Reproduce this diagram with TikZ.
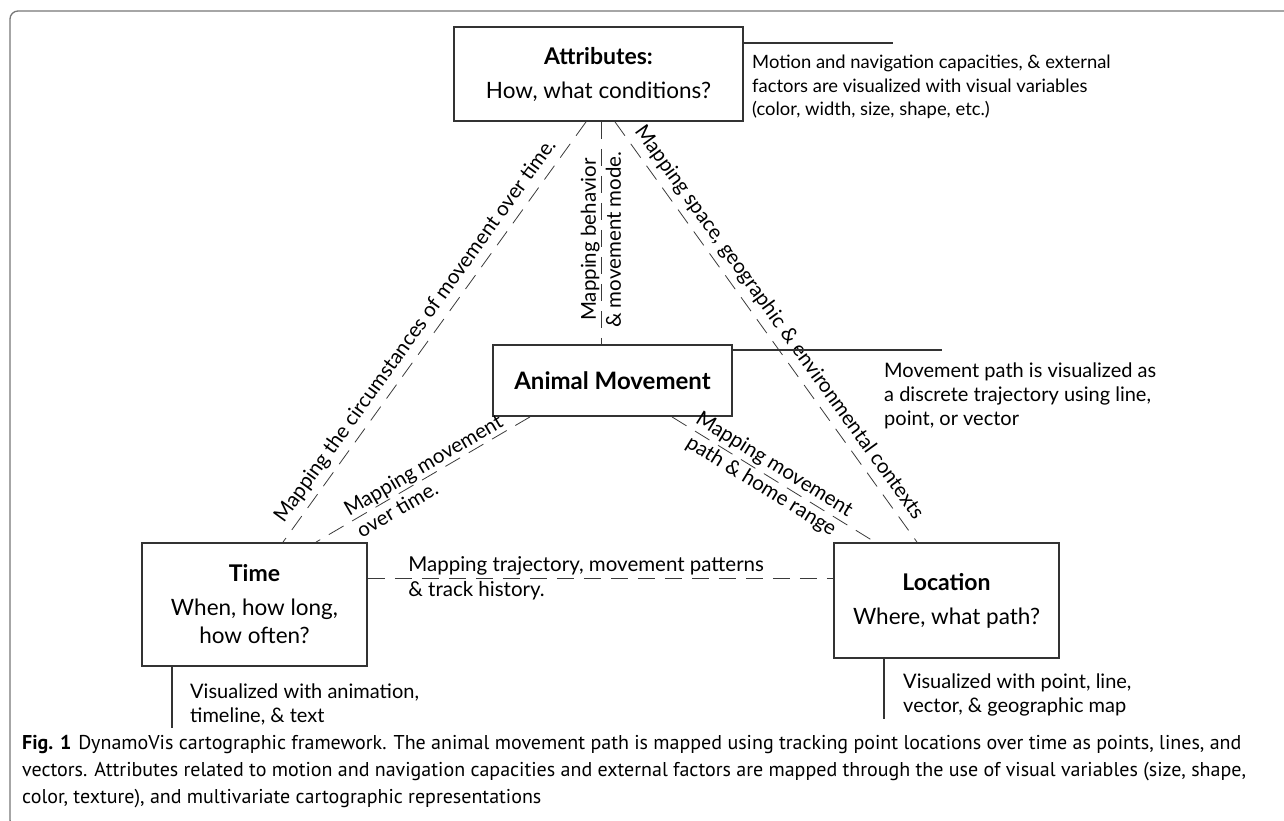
\documentclass[tikz,border=0pt]{standalone}
\usepackage{fontspec}
\setmainfont{Lato}
\newfontfamily\capfont{PT Sans}
\definecolor{boxgray}{HTML}{333333}
\definecolor{linkgray}{HTML}{3A3A3A}
\definecolor{framegray}{HTML}{777777}

\begin{document}
\begin{tikzpicture}[x=1pt,y=-1pt,
    box/.style={draw=boxgray,line width=1.8pt,align=center,inner sep=0pt,font=\bodyfontsize},
    link/.style={draw=linkgray,line width=0.8pt,dash pattern=on 17pt off 10pt},
    note/.style={draw=boxgray,line width=1.5pt},
    notetext/.style={align=left,anchor=north west,inner sep=0pt,font=\notefontsize},
    linklabel/.style={inner sep=0pt,font=\linkfontsize}]
    \providecommand{\titlefontsize}{\fontsize{23pt}{28pt}\selectfont\bfseries}
    \providecommand{\bodyfontsize}{\fontsize{22.5pt}{28pt}\selectfont}
    \providecommand{\linkfontsize}{\fontsize{20.5pt}{25pt}\selectfont}
    \providecommand{\notefontsize}{\fontsize{20pt}{24pt}\selectfont}
    \providecommand{\captionfontsize}{\fontsize{20pt}{27pt}\selectfont}
    \useasboundingbox (0,0) rectangle (1284,820);
    \draw[framegray,line width=1.3pt,rounded corners=8pt] (1300,11) -| (10,828) -- (40,828);

    % the four boxes
    \node[box,minimum width=289pt,minimum height=94pt] (attr) at (598.5,74)
        {{\titlefontsize Attributes:}\\[6pt]How, what conditions?};
    \node[box,minimum width=239pt,minimum height=71pt] (anim) at (612.5,380.5)
        {\fontsize{24pt}{28pt}\selectfont\bfseries Animal Movement};
    \node[box,minimum width=225pt,minimum height=123pt] (time) at (254.5,604.5)
        {{\titlefontsize Time}\\[6pt]When, how long,\\how often?};
    \node[box,minimum width=225pt,minimum height=115pt] (loc) at (946.5,600.5)
        {{\titlefontsize Location}\\[6pt]Where, what path?};

    % dashed connectors
    \draw[link] ([xshift=-12.5pt]attr.south) -- node[linklabel,sloped,above=6pt,pos=0.52]
        {Mapping the circumstances of movement over time.} ([xshift=28.5pt]time.north);
    \draw[link] ([xshift=2.5pt]attr.south) -- node[linklabel,rotate=90,align=center,pos=0.53]
        {Mapping behavior\\\& movement mode.} ([xshift=-11.5pt]anim.north);
    \draw[link] ([xshift=16.5pt]attr.south) -- node[linklabel,sloped,above=6pt]
        {Mapping space, geographic \& environmental contexts} ([xshift=-29.5pt]loc.north);
    \draw[link] ([xshift=-82.5pt]anim.south) -- node[linklabel,sloped,align=left,pos=0.47]
        {Mapping movement\\over time.} ([xshift=61.5pt]time.north);
    \draw[link] ([xshift=59.5pt]anim.south) -- node[linklabel,sloped,align=center,pos=0.47]
        {Mapping movement\\path \& home range} ([xshift=-71.5pt]loc.north);
    \draw[link] ([yshift=26.5pt]time.east) -- node[linklabel,pos=0,anchor=west,xshift=40pt,align=left]
        {Mapping trajectory, movement patterns\\\& track history.} ([yshift=26.5pt]time.east -| loc.west);

    % notes
    \coordinate (attrnote) at (893,43);
    \draw[note] (attrnote -| attr.east) -- (attrnote);
    \node[notetext,font=\fontsize{18.4pt}{23.5pt}\selectfont] (attrtext) at (752,55)
        {Motion and navigation capacities, \& external\\factors are visualized with visual variables\\(color, width, size, shape, etc.)};
    \coordinate (animnote) at (942,350);
    \draw[note] (animnote -| anim.east) -- (animnote);
    \node[notetext] (animtext) at (884,363)
        {Movement path is visualized as\\a discrete trajectory using line,\\point, or vector};
    \coordinate (timenote) at (172,728);
    \draw[note] (timenote |- time.south) -- (timenote);
    \node[notetext] (timetext) at (190,684)
        {Visualized with animation,\\timeline, \& text};
    \coordinate (locnote) at (884,719);
    \draw[note] (locnote |- loc.south) -- (locnote);
    \node[notetext] (loctext) at (903,674)
        {Visualized with point, line,\\vector, \& geographic map};

    % caption
    \node[anchor=base west,inner sep=0pt,font=\capfont\captionfontsize] (cap1) at (22,749)
        {\textbf{Fig. 1}\hspace{7pt}DynamoVis cartographic framework. The animal movement path is mapped using tracking point locations over time as points, lines, and};
    \node[anchor=base west,inner sep=0pt,font=\capfont\captionfontsize] (cap2) at (22,776)
        {vectors. Attributes related to motion and navigation capacities and external factors are mapped through the use of visual variables (size, shape,};
    \node[anchor=base west,inner sep=0pt,font=\capfont\captionfontsize] (cap3) at (22,803)
        {color, texture), and multivariate cartographic representations};
\end{tikzpicture}
\end{document}
